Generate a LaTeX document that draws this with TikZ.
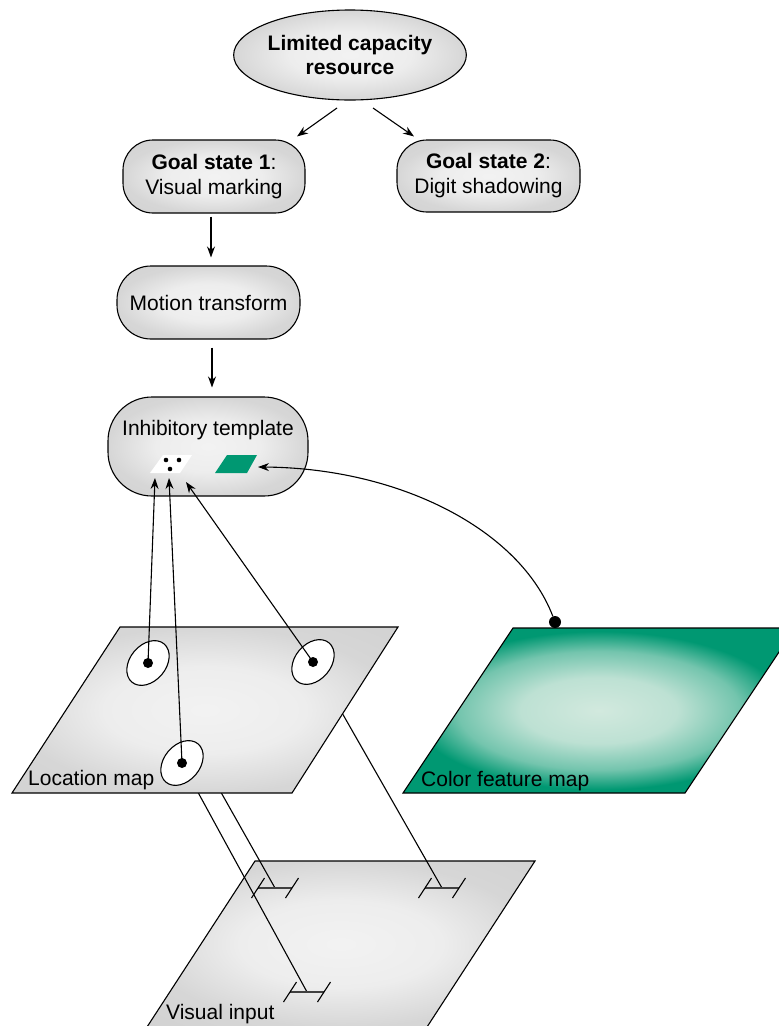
\documentclass[tikz,border=0pt]{standalone}
\usepackage{fontspec}
\setmainfont{Liberation Sans}
\usetikzlibrary{arrows.meta,calc,shapes.geometric}
\definecolor{cfm}{RGB}{0,152,114}
\definecolor{cfmlight}{RGB}{210,233,222}
\pgfdeclareradialshading{cfmshade}{\pgfpoint{0bp}{0bp}}{color(0bp)=(cfmlight); color(10bp)=(cfmlight!90!cfm); color(18bp)=(cfmlight!55!cfm); color(24bp)=(cfm); color(50bp)=(cfm)}
\pgfdeclareradialshading{grayshade}{\pgfpoint{0bp}{0bp}}{color(0bp)=(white!95!black); color(13bp)=(white!93!black); color(25bp)=(white!84!black); color(50bp)=(white!80!black)}
\tikzset{
  tmark/.pic={
    \draw[line width=1.6, black!75] (-17,0) -- (17,0);
    \draw[line width=1.1] (-23.5,10) -- (-10.5,-10);
    \draw[line width=1.1] (10.5,10) -- (23.5,-10);
  }
}
\begin{document}
\begin{tikzpicture}[x=1pt,y=-1pt,
  font=\fontsize{21}{25}\selectfont,
  box/.style={draw, line width=1.1, inner sep=0, shading=grayshade, shade, align=center},
  mapshade/.style={draw, line width=1.1, shading=grayshade, shade},
  arr/.style={-{Stealth[length=11pt,width=8pt]}, line width=1.1},
  dotn/.style={circle, fill=black, inner sep=0, minimum size=10},
  ring/.style={draw, line width=1.1, fill=white},
  mapl/.style={anchor=base west, inner sep=0},
  plain/.style={line width=1.1}
]
\useasboundingbox (0,0) rectangle (779,1026);
\clip (0,0) rectangle (779,1026);

% top nodes
\node[box, ellipse, minimum width=192, minimum height=90,
      font=\fontsize{21}{24}\selectfont\bfseries] (lcr) at (350,55) {Limited capacity\\resource};
\node[box, rounded corners=30, minimum width=182, minimum height=73] (g1) at (214,176.5)
  {\textbf{Goal state 1}:\\Visual marking};
\node[box, rounded corners=30, minimum width=183, minimum height=72] (g2) at (488.5,176)
  {\textbf{Goal state 2}:\\Digit shadowing};
\node[box, rounded corners=34, minimum width=183, minimum height=73] (mt) at (208.5,302.5)
  {Motion transform};
\node[box, rounded corners=44, minimum width=200, minimum height=99] (it) at (208,446.5) {};
\node[inner sep=0] (itl) at (208,430) {Inhibitory template};

\draw[arr] ($(lcr.center)+(-13,53)$) -- ($(g1.north)+(83,-3)$);
\draw[arr] ($(lcr.center)+(23,53)$) -- ($(g2.north)+(-74.5,-3)$);
\draw[arr] ($(g1.south)+(-3,3)$) -- ($(mt.north)+(2.5,-8)$);
\draw[arr] ($(mt.south)+(3.5,8)$) -- ($(it.north)+(4,-9)$);

% template contents
\fill[white] (150,473) -- (163,455) -- (192,455) -- (180,473) -- cycle;
\fill (166,460) circle (2.3) (179,460) circle (2.3) (170,469) circle (2.3);
\fill[cfm] (215,473) -- (227,455) -- (257,455) -- (247,473) -- cycle;
\coordinate (w1) at (155,478);
\coordinate (w2) at (169,478);
\coordinate (w3) at (186,482);
\coordinate (gt) at (258,467);

% visual input
\path[mapshade] (255,861) -- (535,861) -- (427,1027) -- (147,1027) -- cycle;
\node[mapl] (vil) at (166,1019) {Visual input};

% ellipse centres on location map
\coordinate (e1) at (148,663);
\coordinate (e2) at (313,662);
\coordinate (e3) at (182,763);
\coordinate (t1) at (307,992);
\coordinate (t2) at (275,888);
\coordinate (t3) at (442,888);

% projection lines
\draw[plain] (e3) -- (t1);
\draw[plain] (e1) -- (t2);
\draw[plain] (e2) -- (t3);
\pic at (t1) {tmark};
\pic at (t2) {tmark};
\pic at (t3) {tmark};

% location map
\path[mapshade] (120,627) -- (398,627) -- (292,793) -- (12,793) -- cycle;
\node[mapl] (lml) at (28,785) {Location map};
\path[ring, rotate around={50:(e1)}] (e1) ellipse [x radius=25, y radius=18];
\path[ring, rotate around={50:(e2)}] (e2) ellipse [x radius=25, y radius=18];
\path[ring, rotate around={50:(e3)}] (e3) ellipse [x radius=25, y radius=18];
\node[dotn] (d1) at (e1) {};
\node[dotn] (d2) at (e2) {};
\node[dotn] (d3) at (e3) {};

% color feature map
\path[draw, line width=1.1, shading=cfmshade, shade] (513,628) -- (795,628) -- (685,793) -- (403,793) -- cycle;
\node[mapl] (cfl) at (421,786) {Color feature map};
\node[dotn, minimum size=12] (cd) at (555,622) {};

% arrows to template
\draw[arr] (d1.center) -- (w1);
\draw[arr] (d3.center) -- (w2);
\draw[arr] (d2.center) -- (w3);
\draw[arr] (cd) .. controls (520,530) and (400,468) .. (gt);
\end{tikzpicture}
\end{document}
